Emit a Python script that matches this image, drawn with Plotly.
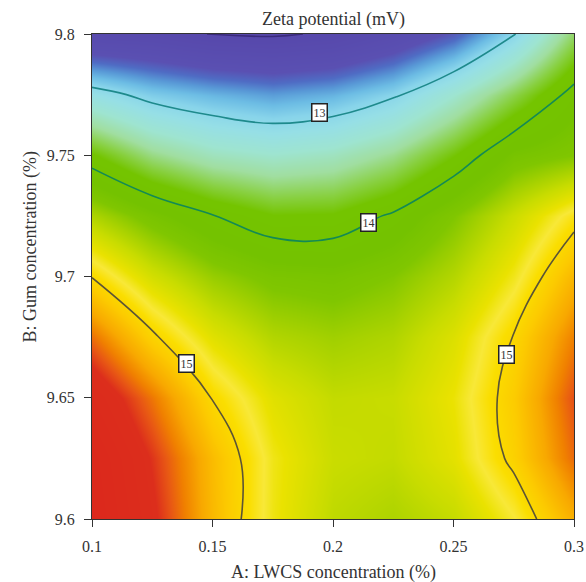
import plotly.graph_objects as go

# ---------------- data ----------------
lwcs = [0.1, 0.125, 0.15, 0.175, 0.2, 0.225, 0.25, 0.275, 0.3]          # A: LWCS concentration (%)
gum = [9.6, 9.625, 9.65, 9.675, 9.7, 9.725, 9.75, 9.775, 9.8]            # B: Gum concentration (%)

zeta_b960 = [16.18, 15.75, 15.20, 14.78, 14.54, 14.47, 14.57, 14.84, 15.26]
zeta_b9625 = [16.12, 15.68, 15.18, 14.79, 14.59, 14.56, 14.72, 15.05, 15.52]
zeta_b965 = [15.92, 15.48, 14.99, 14.70, 14.56, 14.58, 14.76, 15.09, 15.60]
zeta_b9675 = [15.50, 15.04, 14.70, 14.49, 14.42, 14.48, 14.68, 15.01, 15.45]
zeta_b970 = [14.99, 14.64, 14.39, 14.25, 14.22, 14.31, 14.50, 14.80, 15.22]
zeta_b9725 = [14.48, 14.22, 14.01, 13.86, 13.87, 14.03, 14.30, 14.60, 14.92]
zeta_b975 = [13.87, 13.56, 13.38, 13.31, 13.37, 13.54, 13.84, 14.20, 14.30]
zeta_b9775 = [13.12, 12.91, 12.80, 12.72, 12.79, 12.96, 13.30, 13.68, 14.08]
zeta_b980 = [12.12, 12.10, 11.99, 11.97, 12.03, 12.22, 12.50, 12.98, 13.62]

contour_levels = [12, 13, 14, 15]
contour_colors = ["#3a2a7c", "#1e8a8c", "#138a55", "#5a5436"]

label_text = ["13", "14", "15", "15"]
label_a = [0.1946, 0.2149, 0.1393, 0.2718]
label_b = [9.7675, 9.7222, 9.6643, 9.668]

x_tickvals = [0.1, 0.15, 0.2, 0.25, 0.3]
x_ticktext = ["0.1", "0.15", "0.2", "0.25", "0.3"]
y_tickvals = [9.6, 9.65, 9.7, 9.75, 9.8]
y_ticktext = ["9.6", "9.65", "9.7", "9.75", "9.8"]

# colour ramp (z value -> colour)
ramp_z = [11.9, 12.45, 12.58, 12.7, 12.82, 12.95, 13.1, 13.3, 13.5, 13.7, 13.85, 14.15,
          14.3, 14.45, 14.58, 14.75, 14.85, 14.95, 15.1, 15.3, 15.45, 15.57, 15.7, 16.2]
ramp_c = ["#5646aa", "#5a50b2", "#4f6cc4", "#5898d6", "#6cbce4", "#88d4ea", "#96dfe6",
          "#9ee4d0", "#a0dea0", "#88d040", "#74c400", "#74c200", "#80c600", "#a8d200",
          "#c8dc00", "#eae200", "#f8e838", "#fade00", "#fcca00", "#f8a800", "#f08000",
          "#e85814", "#dc2e1c", "#dc281c"]

# ---------------- figure ----------------
z = [zeta_b960, zeta_b9625, zeta_b965, zeta_b9675, zeta_b970,
     zeta_b9725, zeta_b975, zeta_b9775, zeta_b980]

zmin, zmax = ramp_z[0], ramp_z[-1]
colorscale = [[(v - zmin) / (zmax - zmin), c] for v, c in zip(ramp_z, ramp_c)]

serif = "Liberation Serif, Times New Roman, serif"
txt = "#333"

fig = go.Figure()
fig.add_trace(go.Heatmap(
    x=lwcs, y=gum, z=z, zsmooth="best", colorscale=colorscale,
    zmin=zmin, zmax=zmax, showscale=False, hoverinfo="skip"))

for lvl, col in zip(contour_levels, contour_colors):
    fig.add_trace(go.Contour(
        x=lwcs, y=gum, z=z, showscale=False, hoverinfo="skip",
        contours=dict(start=lvl, end=lvl, size=1, coloring="none", showlabels=False),
        line=dict(color=col, width=1.6, smoothing=1.15)))

for t, a, b in zip(label_text, label_a, label_b):
    fig.add_annotation(x=a, y=b, xref="x", yref="y", text=t, showarrow=False,
                       font=dict(family=serif, size=12, color=txt),
                       bgcolor="white", bordercolor="#222", borderwidth=1.5, borderpad=1)

fig.add_annotation(text="Zeta potential (mV)", xref="paper", yref="paper", x=0.5, y=1,
                   yanchor="middle", yshift=15, showarrow=False,
                   font=dict(family=serif, size=18, color=txt))
fig.add_annotation(text="A: LWCS concentration (%)", xref="paper", yref="paper", x=0.5, y=0,
                   yanchor="middle", yshift=-53, showarrow=False,
                   font=dict(family=serif, size=18, color=txt))
fig.add_annotation(text="B: Gum concentration (%)", xref="paper", yref="paper", x=0, y=0.56,
                   xanchor="center", yanchor="middle", xshift=-62, textangle=-90,
                   showarrow=False, font=dict(family=serif, size=18, color=txt))

axis_common = dict(showgrid=False, zeroline=False, showline=True, mirror=True,
                   linecolor="#333", linewidth=1.2, ticks="outside", ticklen=7,
                   tickcolor="#333", tickwidth=1.2, automargin=False,
                   tickfont=dict(family=serif, size=16, color=txt))

fig.update_layout(
    width=586, height=582, margin=dict(l=92, r=12, t=34, b=63),
    paper_bgcolor="white", plot_bgcolor="white", showlegend=False,
    xaxis=dict(range=[0.1, 0.3], tickvals=x_tickvals, ticktext=x_ticktext,
               ticklabelstandoff=6, **axis_common),
    yaxis=dict(range=[9.6, 9.8], tickvals=y_tickvals, ticktext=y_ticktext,
               ticklabelstandoff=6, **axis_common),
)

fig.write_html("out.html")
